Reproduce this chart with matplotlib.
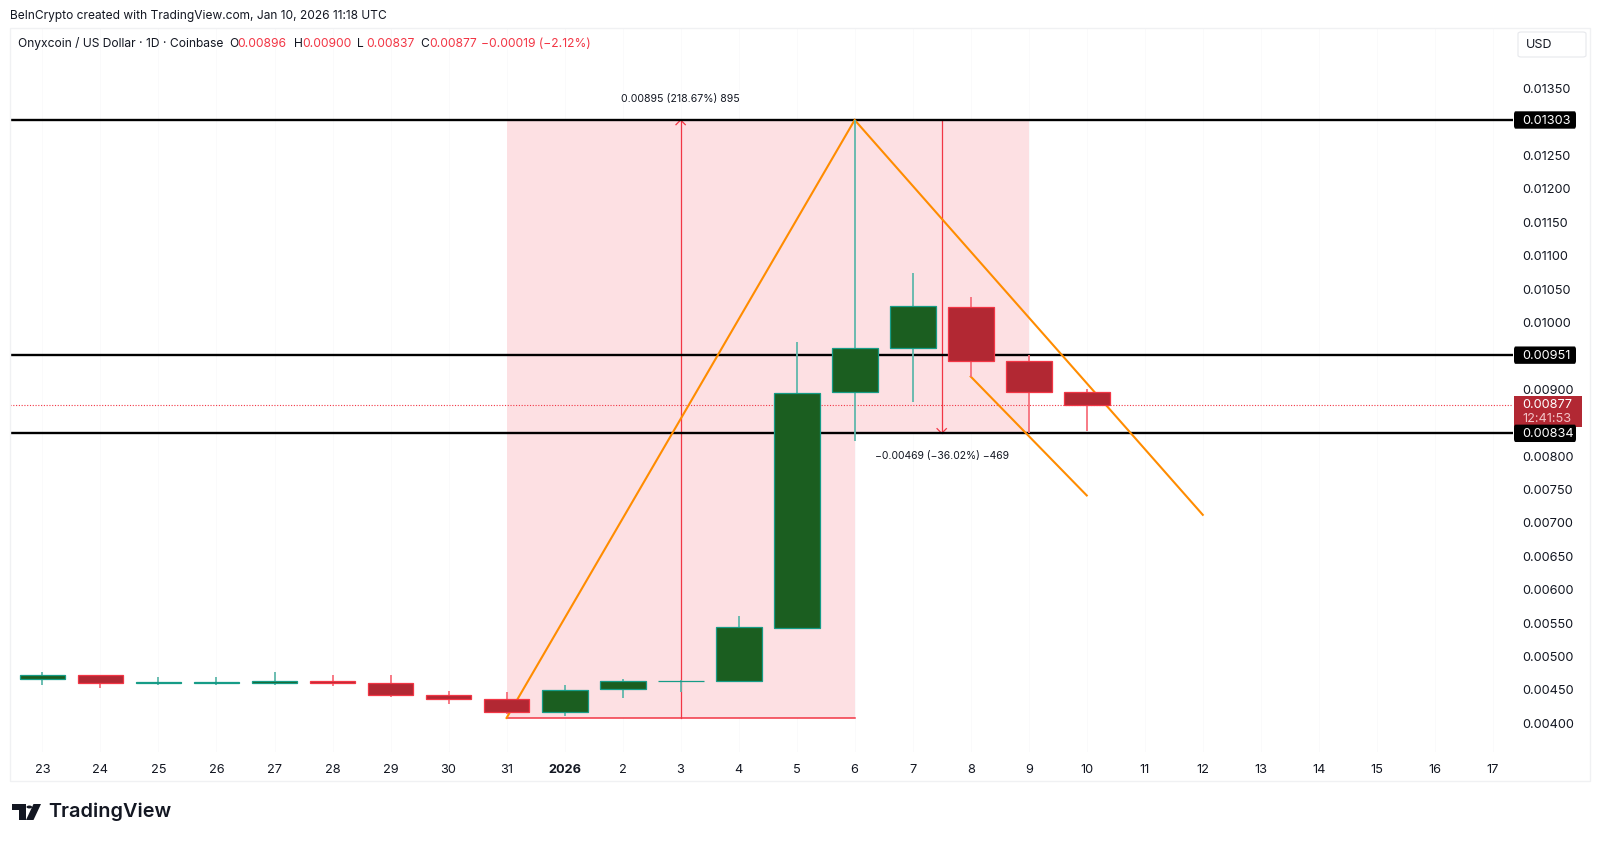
import matplotlib
matplotlib.use("Agg")
import matplotlib.pyplot as plt
from matplotlib.patches import Rectangle, FancyBboxPatch, Polygon, Circle
from matplotlib.transforms import blended_transform_factory

plt.rcParams['font.family'] = ['Inter', 'DejaVu Sans']

# ---------- data ----------
day_labels = ['23','24','25','26','27','28','29','30','31','2026','2','3','4','5','6','7','8','9','10',
              '11','12','13','14','15','16','17']
opens  = [0.00466,0.00472,0.00461,0.00461,0.00461,0.00464,0.00460,0.00443,0.00436,0.00417,0.00452,0.00463,0.00463,0.00543,0.00896,0.00962,0.01023,0.00942,0.00896]
highs  = [0.00476,0.00472,0.00470,0.00469,0.00476,0.00472,0.00472,0.00449,0.00447,0.00458,0.00467,0.00465,0.00560,0.00970,0.01303,0.01074,0.01038,0.00951,0.00900]
lows   = [0.00458,0.00453,0.00458,0.00458,0.00458,0.00456,0.00440,0.00429,0.00414,0.00411,0.00438,0.00447,0.00463,0.00543,0.00822,0.00881,0.00919,0.00834,0.00837]
closes = [0.00472,0.00460,0.00462,0.00462,0.00464,0.00460,0.00443,0.00437,0.00417,0.00450,0.00464,0.00464,0.00544,0.00895,0.00962,0.01025,0.00942,0.00896,0.00877]
level_prices = [0.01303,0.00951,0.00834]
level_labels = ['0.01303','0.00951','0.00834']
last_price = 0.00877
price_ticks = [0.00400,0.00450,0.00500,0.00550,0.00600,0.00650,0.00700,0.00750,0.00800,0.00900,
               0.01000,0.01050,0.01100,0.01150,0.01200,0.01250,0.01350]
up_measure = [8, 14, 0.00408, 0.01303]
down_measure = [14, 17, 0.01303, 0.00834]
orange_a_x = [8, 14, 20]
orange_a_y = [0.00408, 0.01303, 0.00712]
orange_b_x = [16, 18]
orange_b_y = [0.00919, 0.00741]

# ---------- style ----------
W, H = 1600, 842
GREEN, GREEN_E, GREEN_W = '#1b5e20', '#169c87', '#5fb8ab'
RED, RED_E, RED_W = '#b22833', '#f23645', '#f7707c'
PINK = '#fde0e3'
ORANGE = '#ff8c00'
TXT = '#131722'

fig = plt.figure(figsize=(16, 8.42), dpi=100, facecolor='white')
L, R, T, B = 10, 1513, 28, 752
ax = fig.add_axes([L/W, 1-B/H, (R-L)/W, (B-T)/H])
ax.set_xlim(-0.559, 25.347)
ax.set_ylim(0.00357, 0.014407)
for s in ax.spines.values():
    s.set_visible(False)
ax.set_axisbelow(True)
ax.grid(True, axis='x', color='#fafafb', lw=0.7)
ax.yaxis.tick_right()
ax.set_yticks(price_ticks)
ax.set_yticklabels([f'{p:.5f}' for p in price_ticks], fontsize=9.2, color=TXT)
ax.set_xticks(range(len(day_labels)))
ax.set_xticklabels(day_labels, fontsize=9.2, color=TXT)
for lab in ax.get_xticklabels():
    if lab.get_text() == '2026':
        lab.set_fontweight('bold')
ax.tick_params(axis='both', length=0)
ax.tick_params(axis='y', pad=6.5)
ax.tick_params(axis='x', pad=8.5)

# frame around chart
fig.add_artist(Rectangle((10/W, 1-781/H), 1580/W, 753/H, transform=fig.transFigure,
                         fill=False, ec='#f0f1f3', lw=1))

# measure zones
ax.add_patch(Rectangle((up_measure[0], up_measure[2]), up_measure[1]-up_measure[0],
                       up_measure[3]-up_measure[2], fc=PINK, ec='none', zorder=1))
ax.add_patch(Rectangle((down_measure[0], down_measure[3]), down_measure[1]-down_measure[0],
                       down_measure[2]-down_measure[3], fc=PINK, ec='none', zorder=1))
ax.plot(up_measure[:2], [up_measure[2]]*2, color=RED_E, lw=1.1, zorder=2)
ax.plot(up_measure[:2], [up_measure[3]]*2, color=RED_E, lw=1.1, zorder=2)
ax.plot(down_measure[:2], [down_measure[3]]*2, color=RED_E, lw=1.1, zorder=2)
ux = sum(up_measure[:2])/2
dx = sum(down_measure[:2])/2
ax.plot([ux, ux], up_measure[2:], color=RED_E, lw=0.9, zorder=2)
ax.plot([dx, dx], down_measure[2:], color=RED_E, lw=0.9, zorder=2)
ax.plot([ux-0.08, ux, ux+0.08], [up_measure[3]-0.00007, up_measure[3], up_measure[3]-0.00007],
        color=RED_E, lw=0.9, zorder=2)
ax.plot([dx-0.08, dx, dx+0.08], [down_measure[3]+0.00007, down_measure[3], down_measure[3]+0.00007],
        color=RED_E, lw=0.9, zorder=2)
ax.annotate('0.00895 (218.67%) 895', (ux, up_measure[3]), xytext=(0, 15), textcoords='offset points',
            ha='center', va='center', fontsize=7.6, color=TXT, zorder=6)
ax.annotate('\u22120.00469 (\u221236.02%) \u2212469', (dx, down_measure[3]), xytext=(0, -16),
            textcoords='offset points', ha='center', va='center', fontsize=7.5, color=TXT, zorder=6)

# levels
for p in level_prices:
    ax.axhline(p, color='black', lw=1.7, zorder=3)
ax.axhline(last_price, color=RED_E, lw=0.8, ls=(0, (1, 1.5)), zorder=3)

# orange lines
ax.plot(orange_a_x, orange_a_y, color=ORANGE, lw=1.5, zorder=3, solid_joinstyle='miter')
ax.plot(orange_b_x, orange_b_y, color=ORANGE, lw=1.5, zorder=3)

# candles
for i, (o, h, l, c) in enumerate(zip(opens, highs, lows, closes)):
    up = c >= o
    ax.plot([i, i], [l, h], color=GREEN_W if up else RED_W, lw=1.3, zorder=4, solid_capstyle='butt')
    ax.bar(i, abs(c-o), bottom=min(o, c), width=0.79, color=GREEN if up else RED,
           edgecolor=GREEN_E if up else RED_E, linewidth=0.9, zorder=5)

# price labels
tr = blended_transform_factory(ax.transAxes, ax.transData)
axw = R - L
x0 = (1514 - L) / axw
xw = 62 / axw
for p, s in zip(level_prices, level_labels):
    ax.add_patch(FancyBboxPatch((x0, p-0.00013), xw, 0.00026, transform=tr, clip_on=False, fc='black', ec='none',
                                boxstyle='round,pad=0,rounding_size=0.001', mutation_aspect=0.05, zorder=7))
    ax.text(x0 + 8/axw, p-0.00001, s, transform=tr, color='white', fontsize=9.2, va='center', ha='left', zorder=8, clip_on=False)
ax.add_patch(Rectangle((x0, 0.00843), 68/axw, 0.00047, transform=tr, clip_on=False, fc=RED, ec='none', zorder=6))
ax.text(x0 + 8/axw, last_price, f'{last_price:.5f}', transform=tr, color='white', fontsize=9.2, va='center', zorder=8)
ax.text(x0 + 8/axw, 0.00855, '12:41:53', transform=tr, color='#f2c4c8', fontsize=9.2, va='center', zorder=8)

# header
fig.text(10/W, 1-16.5/H, 'BeInCrypto created with TradingView.com, Jan 10, 2026 11:18 UTC',
         fontsize=8.6, color=TXT, va='center')
hdr_y = 1-44/H
segs = [(17.5,'Onyxcoin / US Dollar \u00b7 1D \u00b7 Coinbase',TXT),(229,'O',TXT),(237.5,'0.00896',RED_E),
        (294,'H',TXT),(302.5,'0.00900',RED_E),(357.5,'L',TXT),(366,'0.00837',RED_E),
        (420,'C',TXT),(429,'0.00877',RED_E),(481,'\u22120.00019 (\u22122.12%)',RED_E)]
for x, s, c in segs:
    fig.text(x/W, hdr_y, s, fontsize=8.7, color=c, va='center')

# USD box
fig.add_artist(FancyBboxPatch((1518/W, 1-57/H), 68/W, 25/H, transform=fig.transFigure, fc='white', ec='#e6e8ec',
                              lw=0.8, boxstyle='round,pad=0,rounding_size=0.002'))
fig.text(1539/W, 1-44.5/H, 'USD', fontsize=9, color=TXT, ha='center', va='center')

# logo
def fp(pts):
    return [(x/W, 1-y/H) for x, y in pts]
fig.add_artist(Polygon(fp([(12,804),(25.5,804),(25.5,820),(19,820),(19,810),(12,810)]), transform=fig.transFigure, fc='#131722', ec='none'))
fig.add_artist(Polygon(fp([(33.5,804),(41,804),(33.5,820),(26,820)]), transform=fig.transFigure, fc='#131722', ec='none'))
fig.add_artist(Circle((29.3/W, 1-807/H), 2.8/W, transform=fig.transFigure, fc='#131722', ec='none'))
fig.text(48/W, 1-812/H, 'TradingView', fontsize=14.3, fontweight='semibold', color='#131722', va='center')

fig.savefig('out.png', dpi=100)
